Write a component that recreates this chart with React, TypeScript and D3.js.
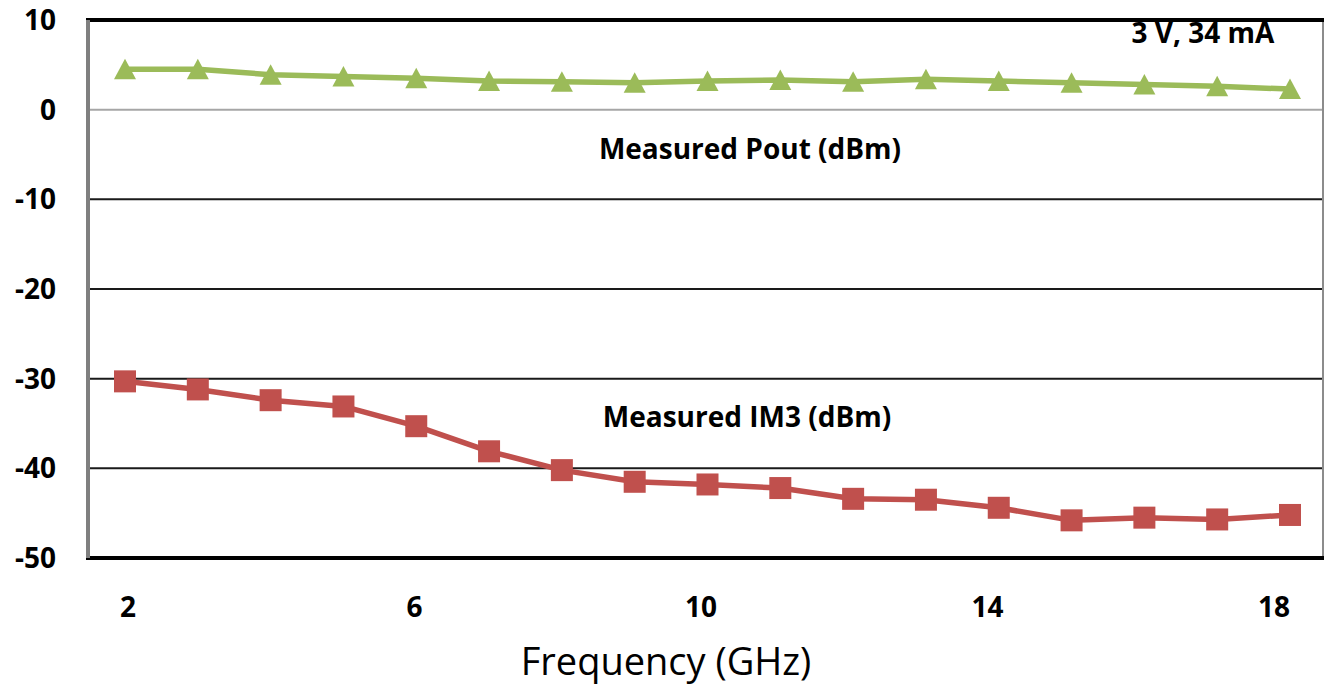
import React, { useRef, useEffect } from 'react';
import * as d3 from 'd3';

// frequency points (GHz)
const freqs = [2, 3, 4, 5, 6, 7, 8, 9, 10, 11, 12, 13, 14, 15, 16, 17, 18];
// measured output power (dBm)
const poutValues = [4.5, 4.5, 3.9, 3.7, 3.5, 3.2, 3.1, 3.0, 3.2, 3.3, 3.1, 3.4, 3.2, 3.0, 2.8, 2.6, 2.3];
// measured third-order intermod (dBm)
const im3Values = [-30.3, -31.2, -32.4, -33.1, -35.3, -38.1, -40.2, -41.5, -41.8, -42.2, -43.4, -43.5, -44.4, -45.8, -45.5, -45.7, -45.2];
const xTickLabels = [2, 6, 10, 14, 18];
const yTickLabels = [10, 0, -10, -20, -30, -40, -50];

const W = 1325;
const H = 687;

const App = () => {
  const svgRef = useRef<SVGSVGElement>(null);

  useEffect(() => {
    const svgEl = d3.select(svgRef.current);
    svgEl.selectAll('*').remove();

    const left = 88, right = 1323, top = 20, bottom = 558;
    const font = "'Open Sans', sans-serif";

    const x = d3.scaleLinear().domain([2, 18]).range([125, 1290]);
    // tick labels sit on their own spacing in the source picture
    const xLab = d3.scaleLinear().domain([2, 18]).range([128, 1274]);
    const y = d3.scaleLinear().domain([-50, 10]).range([bottom, top]);

    svgEl.attr('width', W).attr('height', H);
    svgEl.append('rect').attr('width', W).attr('height', H).attr('fill', '#fff');

    // gridlines
    svgEl.append('g')
      .selectAll('line')
      .data(yTickLabels.filter(v => v > -50 && v < 10))
      .enter()
      .append('line')
      .attr('x1', left)
      .attr('x2', right)
      .attr('y1', d => y(d))
      .attr('y2', d => y(d))
      .attr('stroke', d => (d === 0 ? '#a6a6a6' : '#1a1a1a'))
      .attr('stroke-width', 2);

    // frame
    svgEl.append('line').attr('x1', right).attr('x2', right).attr('y1', top).attr('y2', bottom)
      .attr('stroke', '#8c8c8c').attr('stroke-width', 2);
    svgEl.append('line').attr('x1', left - 2).attr('x2', right + 1).attr('y1', top).attr('y2', top)
      .attr('stroke', '#000').attr('stroke-width', 4);
    svgEl.append('line').attr('x1', left - 2).attr('x2', right + 1).attr('y1', bottom).attr('y2', bottom)
      .attr('stroke', '#000').attr('stroke-width', 4);
    svgEl.append('line').attr('x1', left).attr('x2', left).attr('y1', top).attr('y2', bottom)
      .attr('stroke', '#7f7f7f').attr('stroke-width', 4);

    // y tick labels
    svgEl.append('g')
      .selectAll('text')
      .data(yTickLabels)
      .enter()
      .append('text')
      .attr('x', 56)
      .attr('y', d => y(d))
      .attr('dy', '0.36em')
      .attr('text-anchor', 'end')
      .style('font-family', font)
      .style('font-weight', 700)
      .style('font-size', '28px')
      .text(d => d);

    // x tick labels
    svgEl.append('g')
      .selectAll('text')
      .data(xTickLabels)
      .enter()
      .append('text')
      .attr('x', d => xLab(d))
      .attr('y', 607)
      .attr('dy', '0.36em')
      .attr('text-anchor', 'middle')
      .style('font-family', font)
      .style('font-weight', 700)
      .style('font-size', '28px')
      .text(d => d);

    // x axis title
    svgEl.append('text')
      .attr('x', 666)
      .attr('y', 675)
      .attr('text-anchor', 'middle')
      .style('font-family', font)
      .style('font-size', '38px')
      .text('Frequency (GHz)');

    const line = d3.line<number>()
      .x((d, i) => x(freqs[i]))
      .y(d => y(d));

    // Pout series
    svgEl.append('path')
      .datum(poutValues)
      .attr('d', line)
      .attr('fill', 'none')
      .attr('stroke', '#9bbb59')
      .attr('stroke-width', 5.5)
      .attr('stroke-linejoin', 'round');

    svgEl.append('g')
      .selectAll('path')
      .data(poutValues)
      .enter()
      .append('path')
      .attr('transform', (d, i) => `translate(${x(freqs[i])},${y(d)})`)
      .attr('d', 'M0,-10.5 L11,10 L-11,10 Z')
      .attr('fill', '#9bbb59');

    // IM3 series
    svgEl.append('path')
      .datum(im3Values)
      .attr('d', line)
      .attr('fill', 'none')
      .attr('stroke', '#c0504d')
      .attr('stroke-width', 5.5)
      .attr('stroke-linejoin', 'round');

    svgEl.append('g')
      .selectAll('rect')
      .data(im3Values)
      .enter()
      .append('rect')
      .attr('x', (d, i) => x(freqs[i]) - 11)
      .attr('y', d => y(d) - 11)
      .attr('width', 22)
      .attr('height', 22)
      .attr('fill', '#c0504d');

    // annotations
    const notes = [
      { text: 'Measured Pout (dBm)', cx: 750, cy: 149 },
      { text: 'Measured IM3 (dBm)', cx: 747, cy: 417 },
      { text: '3 V, 34 mA', cx: 1203, cy: 33 }
    ];
    svgEl.append('g')
      .selectAll('text')
      .data(notes)
      .enter()
      .append('text')
      .attr('x', d => d.cx)
      .attr('y', d => d.cy)
      .attr('dy', '0.36em')
      .attr('text-anchor', 'middle')
      .style('font-family', font)
      .style('font-weight', 700)
      .style('font-size', '28px')
      .text(d => d.text);
  }, []);

  return (
    <div style={{ position: 'absolute', left: 0, top: 0, width: W, height: H }}>
      <svg ref={svgRef} style={{ display: 'block' }}></svg>
    </div>
  );
};

export default App;
